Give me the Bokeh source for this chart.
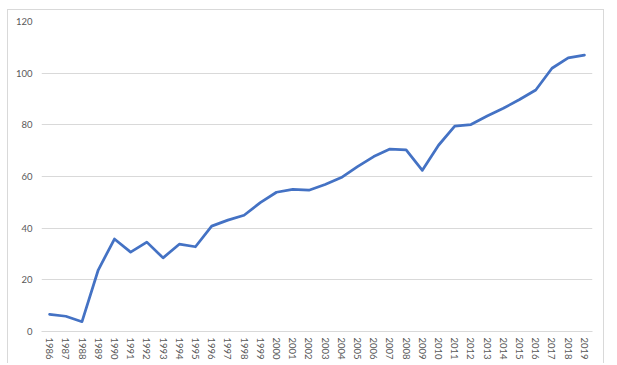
from bokeh.plotting import figure
from bokeh.models import FactorRange, Range1d, FixedTicker
from bokeh.embed import file_html
from bokeh.resources import INLINE

years = [str(y) for y in range(1986, 2020)]
values = [6.6, 5.9, 3.8, 23.8, 35.8, 30.7, 34.6, 28.5, 33.8, 32.8,
          40.8, 43.1, 45.0, 49.9, 53.9, 55.0, 54.7, 56.9, 59.6, 63.8,
          67.7, 70.6, 70.3, 62.4, 72.1, 79.5, 80.1, 83.4, 86.4, 89.8,
          93.5, 101.9, 105.9, 107.0]
y_ticks = [0, 20, 40, 60, 80, 100, 120]

font = "Lato"
grey_text = "#595959"
grid = "#d9d9d9"

p = figure(x_range=FactorRange(*years, range_padding=0),
           y_range=Range1d(0, 120),
           width=597, height=354,
           output_backend="svg", toolbar_location=None,
           min_border_left=33, min_border_right=13,
           min_border_top=11, min_border_bottom=33)
p.margin = (9, 0, 0, 7)
p.styles = {"border-top": "1px solid #d9d9d9",
            "border-left": "1px solid #d9d9d9",
            "border-right": "1px solid #d9d9d9"}

p.line(x=years, y=values, line_color="#4472C4", line_width=2.75,
       line_join="round", line_cap="round")

p.outline_line_color = None
p.xgrid.grid_line_color = None
p.ygrid.grid_line_color = grid
p.ygrid.grid_line_width = 1

p.yaxis.ticker = FixedTicker(ticks=y_ticks)
p.yaxis.axis_line_color = None
p.yaxis.major_tick_line_color = None
p.yaxis.minor_tick_line_color = None
p.yaxis.major_tick_out = 0
p.yaxis.major_tick_in = 0
p.yaxis.minor_tick_out = 0
p.yaxis.major_label_text_font = font
p.yaxis.major_label_text_font_size = "9.5px"
p.yaxis.major_label_text_color = grey_text
p.yaxis.major_label_standoff = 9

p.xaxis.axis_line_color = grid
p.xaxis.major_tick_line_color = None
p.xaxis.minor_tick_line_color = None
p.xaxis.major_tick_out = 0
p.xaxis.major_tick_in = 0
p.xaxis.minor_tick_out = 0
p.xaxis.major_label_orientation = "vertical"
p.xaxis.major_label_text_font = font
p.xaxis.major_label_text_font_size = "9.5px"
p.xaxis.major_label_text_color = grey_text
p.xaxis.major_label_standoff = 6

open("out.html", "w").write(file_html(p, INLINE))
